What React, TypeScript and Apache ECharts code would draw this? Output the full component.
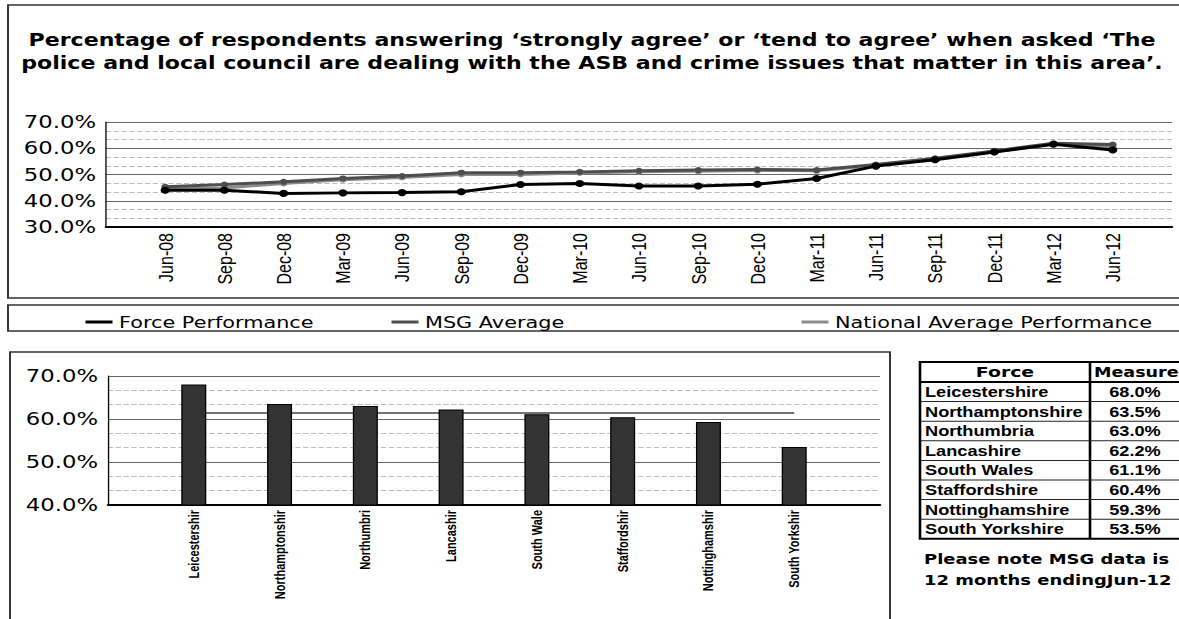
import React, { useEffect, useRef } from "react";
import * as echarts from "echarts";

const quarters = ["Jun-08", "Sep-08", "Dec-08", "Mar-09", "Jun-09", "Sep-09", "Dec-09", "Mar-10", "Jun-10", "Sep-10", "Dec-10", "Mar-11", "Jun-11", "Sep-11", "Dec-11", "Mar-12", "Jun-12"];
const forcePerformance = [44.0, 44.0, 42.8, 43.0, 43.1, 43.4, 46.2, 46.6, 45.6, 45.6, 46.3, 48.5, 53.2, 55.6, 58.6, 61.5, 59.3];
const msgAverage = [45.3, 46.2, 47.2, 48.5, 49.4, 50.7, 50.7, 51.0, 51.4, 51.7, 51.9, 51.7, 53.8, 56.2, 59.0, 61.9, 61.4];
const nationalAverage = [44.7, 44.9, 46.6, 48.0, 48.9, 50.0, 50.0, 50.6, 51.0, 51.2, 51.5, 51.4, 53.4, 55.8, 58.7, 61.6, 60.6];

const forces = ["Leicestershire", "Northamptonshire", "Northumbria", "Lancashire", "South Wales", "Staffordshire", "Nottinghamshire", "South Yorkshire"];
const forceAxisLabels = ["Leicestershir", "Northamptonshir", "Northumbri", "Lancashir", "South Wale", "Staffordshir", "Nottinghamshir", "South Yorkshir"];
const measures = [68.0, 63.5, 63.0, 62.2, 61.1, 60.4, 59.3, 53.5];
const msgLatestAverage = 61.4;

const titleLines = [
  "Percentage of respondents answering \u2018strongly agree\u2019 or \u2018tend to agree\u2019 when asked \u2018The",
  "police and local council are dealing with the ASB and crime issues that matter in this area\u2019.",
];
const noteLines = ["Please note MSG data is", "12 months endingJun-12"];
const tableHeaders = ["Force", "Measure"];

const pct = (v: number) => v.toFixed(1) + "%";

// the scanned reference is stretched horizontally; render narrower and stretch
const S = 1.3;
const X = (px: number) => px / S;

export default function App() {
  const ref = useRef<HTMLDivElement>(null);
  useEffect(() => {
    if (!ref.current) return;
    const chart = echarts.init(ref.current, undefined, { renderer: "svg" });

    const yAxisCommon = {
      type: "value",
      interval: 10,
      axisLine: { show: true, onZero: false, lineStyle: { color: "#000", width: 1 } },
      axisTick: { show: false },
      splitLine: { show: true, lineStyle: { color: "#666", width: 1 } },
      minorTick: { show: false, splitNumber: 3 },
      minorSplitLine: { show: true, lineStyle: { color: "#bbb", width: 1, type: "dashed" } },
      axisLabel: { formatter: (v: number) => pct(v), fontSize: 17.5, fontFamily: "DejaVu Sans", color: "#000", margin: X(10) },
    };

    const tX = 920, tY = 362, tW = 270, hdrH = 20, rowH = 19.6, colX = 1090;
    const tH = hdrH + rowH * forces.length;
    const tableEls: any[] = [
      { type: "rect", shape: { x: X(tX), y: tY, width: X(tW), height: tH }, style: { fill: "#fff", stroke: "#000", lineWidth: 2 } },
      { type: "line", shape: { x1: X(colX), y1: tY, x2: X(colX), y2: tY + tH }, style: { stroke: "#000", lineWidth: 2 } },
      { type: "line", shape: { x1: X(tX), y1: tY + hdrH, x2: X(tX + tW), y2: tY + hdrH }, style: { stroke: "#000", lineWidth: 2 } },
      { type: "text", x: X((tX + colX) / 2), y: tY + hdrH / 2, style: { text: tableHeaders[0], fontSize: 14.5, fontWeight: "bold", fontFamily: "DejaVu Sans", fill: "#000", align: "center", verticalAlign: "middle" } },
      { type: "text", x: X(colX + 4), y: tY + hdrH / 2, style: { text: tableHeaders[1], fontSize: 13.5, fontWeight: "bold", fontFamily: "DejaVu Sans", fill: "#000", align: "left", verticalAlign: "middle" } },
    ];
    forces.forEach((f, i) => {
      const cy = tY + hdrH + rowH * i + rowH / 2;
      if (i < forces.length - 1) {
        const ly = tY + hdrH + rowH * (i + 1);
        tableEls.push({ type: "line", shape: { x1: X(tX), y1: ly, x2: X(tX + tW), y2: ly }, style: { stroke: "#222", lineWidth: 1 } });
      }
      tableEls.push({ type: "text", x: X(tX + 5), y: cy, style: { text: f, fontSize: 14, fontWeight: "bold", fontFamily: "Liberation Sans", fill: "#000", align: "left", verticalAlign: "middle" } });
      tableEls.push({ type: "text", x: X(1135), y: cy, style: { text: pct(measures[i]), fontSize: 14, fontWeight: "bold", fontFamily: "Liberation Sans", fill: "#000", align: "center", verticalAlign: "middle" } });
    });
    noteLines.forEach((t, i) => {
      tableEls.push({ type: "text", x: X(924), y: 559 + i * 21, style: { text: t, fontSize: 13.8, fontWeight: "bold", fontFamily: "DejaVu Sans", fill: "#000", align: "left", verticalAlign: "middle" } });
    });
    const titleEls = titleLines.map((t, i) => ({
      type: "text",
      x: X(592),
      y: 40 + i * 23,
      style: { text: t, fontSize: 17, fontWeight: "bold", fontFamily: "DejaVu Sans", fill: "#000", align: "center", verticalAlign: "middle" },
    }));

    const legendCommon = {
      top: 309,
      icon: "rect",
      itemWidth: X(27),
      itemHeight: 3,
      itemGap: X(10),
      textStyle: { fontSize: 16, fontFamily: "DejaVu Sans", color: "#000" },
      selectedMode: false,
    };

    chart.setOption({
      animation: false,
      backgroundColor: "#fff",
      legend: [
        { ...legendCommon, left: X(79), data: ["Force Performance"] },
        { ...legendCommon, left: X(385), data: ["MSG Average"] },
        { ...legendCommon, left: X(795), data: ["National Average Performance"] },
      ],
      grid: [
        { left: X(106), top: 122, width: X(1066), height: 105 },
        { left: X(108), top: 376, width: X(772), height: 129 },
      ],
      xAxis: [
        {
          type: "value",
          gridIndex: 0,
          min: -1,
          max: 17,
          interval: 1,
          axisLine: { show: true, onZero: false, lineStyle: { color: "#000", width: 2 } },
          axisTick: { show: false },
          splitLine: { show: false },
          axisLabel: {
            rotate: 90,
            margin: 6,
            fontSize: 16,
            fontFamily: "Liberation Sans",
            color: "#000",
            formatter: (v: number) => quarters[v] ?? "",
          },
        },
        {
          type: "value",
          gridIndex: 1,
          min: -1,
          max: 8,
          interval: 1,
          axisLine: { show: true, onZero: false, lineStyle: { color: "#000", width: 2 } },
          axisTick: { show: false },
          splitLine: { show: false },
          axisLabel: {
            rotate: 90,
            margin: 5,
            fontSize: 11,
            fontWeight: "bold",
            fontFamily: "Liberation Sans",
            color: "#000",
            formatter: (v: number) => forceAxisLabels[v] ?? "",
          },
        },
      ],
      yAxis: [
        { ...yAxisCommon, gridIndex: 0, min: 30, max: 70 },
        { ...yAxisCommon, gridIndex: 1, min: 40, max: 70 },
      ],
      series: [
        {
          type: "line",
          name: "National Average Performance",
          xAxisIndex: 0,
          yAxisIndex: 0,
          data: nationalAverage.map((v, i) => [i, v]),
          symbol: "circle",
          symbolSize: 6,
          lineStyle: { color: "#8c8c8c", width: 3 },
          itemStyle: { color: "#8c8c8c" },
        },
        {
          type: "line",
          name: "MSG Average",
          xAxisIndex: 0,
          yAxisIndex: 0,
          data: msgAverage.map((v, i) => [i, v]),
          symbol: "circle",
          symbolSize: 6,
          lineStyle: { color: "#4d4d4d", width: 3 },
          itemStyle: { color: "#4d4d4d" },
        },
        {
          type: "line",
          name: "Force Performance",
          xAxisIndex: 0,
          yAxisIndex: 0,
          data: forcePerformance.map((v, i) => [i, v]),
          symbol: "circle",
          symbolSize: 7,
          lineStyle: { color: "#000", width: 3 },
          itemStyle: { color: "#000" },
        },
        {
          type: "line",
          name: "MSG Average (latest)",
          xAxisIndex: 1,
          yAxisIndex: 1,
          data: [[0, msgLatestAverage], [7, msgLatestAverage]],
          symbol: "none",
          lineStyle: { color: "#444", width: 1.5 },
          z: 1,
        },
        {
          type: "bar",
          name: "Measure",
          xAxisIndex: 1,
          yAxisIndex: 1,
          data: measures.map((v, i) => [i, v]),
          barWidth: X(25),
          itemStyle: { color: "#333", borderColor: "#000", borderWidth: 1 },
          z: 3,
        },
      ],
      graphic: [
        { type: "rect", silent: true, shape: { x: X(8), y: 5, width: X(1180), height: 293 }, style: { fill: "none", stroke: "#333", lineWidth: 1.5 } },
        { type: "rect", silent: true, shape: { x: X(8), y: 305, width: X(1180), height: 26 }, style: { fill: "none", stroke: "#333", lineWidth: 1.5 } },
        { type: "rect", silent: true, shape: { x: X(10), y: 352, width: X(880), height: 280 }, style: { fill: "none", stroke: "#333", lineWidth: 1.5 } },
        ...titleEls,
        ...tableEls,
      ],
    });
    return () => chart.dispose();
  }, []);
  return (
    <div
      ref={ref}
      style={{
        position: "fixed",
        left: 0,
        top: 0,
        width: Math.round(1179 / S),
        height: 619,
        transform: `scaleX(${S})`,
        transformOrigin: "0 0",
      }}
    />
  );
}
